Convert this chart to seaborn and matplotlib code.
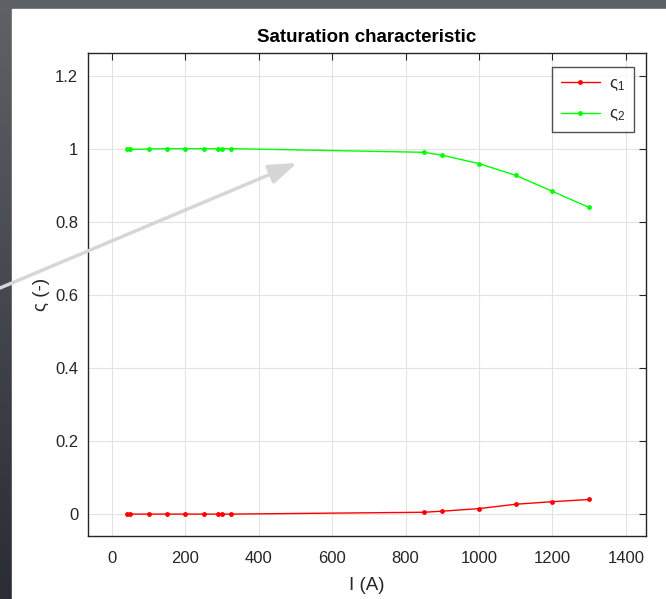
import numpy as np
import pandas as pd
import matplotlib
matplotlib.use("Agg")
import matplotlib.pyplot as plt
import seaborn as sns
from matplotlib.patches import FancyArrowPatch

current = [40, 50, 100, 150, 200, 250, 290, 300, 325, 850, 900, 1000, 1100, 1200, 1300]
sigma1 = [0.0, 0.0, 0.0, 0.0, 0.0, 0.0, 0.0, 0.0, 0.0, 0.005, 0.008, 0.015, 0.027, 0.034, 0.040]
sigma2 = [0.999, 0.999, 1.0, 1.001, 1.001, 1.001, 1.001, 1.001, 1.001, 0.991, 0.983, 0.960, 0.928, 0.884, 0.840]
series_names = ["ς$_1$", "ς$_2$"]
series_colors = ["#ff0000", "#00ff00"]
xticks = [0, 200, 400, 600, 800, 1000, 1200, 1400]
yticks = [0, 0.2, 0.4, 0.6, 0.8, 1.0, 1.2]
ytick_labels = ["0", "0.2", "0.4", "0.6", "0.8", "1", "1.2"]

df = pd.concat([
    pd.DataFrame({"I": current, "s": sigma1, "series": series_names[0]}),
    pd.DataFrame({"I": current, "s": sigma2, "series": series_names[1]}),
])

sns.set_theme(style="white")
plt.rcParams["font.family"] = ["Liberation Sans", "DejaVu Sans"]
plt.rcParams["mathtext.fontset"] = "custom"
plt.rcParams["mathtext.rm"] = "Liberation Sans"
plt.rcParams["mathtext.it"] = "Liberation Sans"

fig = plt.figure(figsize=(6.66, 5.99), dpi=100)
fig.patch.set_facecolor("#5e6266")

# background: white panel with dark frame on left/top
bg = fig.add_axes([0, 0, 1, 1], zorder=-10)
bg.set_axis_off()
bg.set_xlim(0, 666)
bg.set_ylim(599, 0)
grad = np.linspace(0, 1, 256).reshape(-1, 1)
c_top = np.array([0x5e, 0x62, 0x66]) / 255
c_bot = np.array([0x2a, 0x2c, 0x36]) / 255
img = c_top[None, None, :] * (1 - grad[:, :, None]) + c_bot[None, None, :] * grad[:, :, None]
bg.imshow(img, extent=[0, 12, 599, 9], aspect="auto")
bg.add_patch(plt.Rectangle((12, 9), 660, 600, color="white"))

ax = fig.add_axes([88 / 666, 1 - 536 / 599, (646 - 88) / 666, (536 - 53) / 599])
sns.lineplot(data=df, x="I", y="s", hue="series", palette=series_colors,
             marker="o", markersize=3.5, markeredgewidth=0, linewidth=1,
             ax=ax, sort=False)

ax.set_xlim(-65, 1455)
ax.set_ylim(-0.060, 1.263)
ax.set_xticks(xticks)
ax.set_yticks(yticks)
ax.set_yticklabels(ytick_labels)
ax.grid(True, color="#e3e3e3", linewidth=0.8)
ax.set_axisbelow(True)
for sp in ax.spines.values():
    sp.set_color("#262626")
    sp.set_linewidth(1)
ax.tick_params(direction="in", length=5, width=0.8, color="#262626",
               top=True, right=True, labelsize=12, labelcolor="#262626")
ax.tick_params(axis="x", pad=11)
ax.tick_params(axis="y", pad=7)
ax.set_xlabel("I (A)", fontsize=13.5, color="#262626", labelpad=8)
ax.set_ylabel("ς (-)", fontsize=13.5, color="#262626", labelpad=4)
ax.set_title("Saturation characteristic", fontsize=13.5, fontweight="bold", color="black", pad=8)

leg = ax.legend(loc="upper right", fontsize=12, frameon=True, fancybox=False,
                edgecolor="#262626", handlelength=2.3, handletextpad=0.55,
                borderpad=0.55, labelspacing=0.8, borderaxespad=0,
                bbox_to_anchor=(1 - 12 / 558, 1 - 14 / 483))
leg.get_frame().set_linewidth(1)
leg.set_title(None)

arrow = FancyArrowPatch((0, 599 - 288), (297, 599 - 163),
                        transform=None, arrowstyle="-|>,head_length=17,head_width=6",
                        color="#d6d6d6", linewidth=2.5, zorder=20, mutation_scale=1,
                        shrinkA=0, shrinkB=0)
fig.add_artist(arrow)

fig.savefig("out.png", dpi=100, facecolor=fig.get_facecolor())
